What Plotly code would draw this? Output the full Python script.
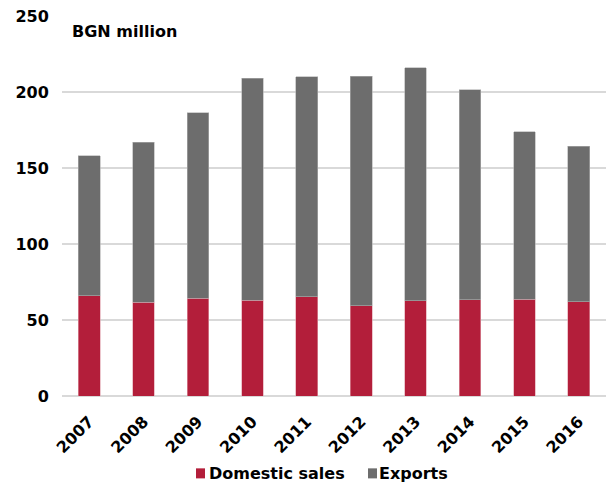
import plotly.graph_objects as go

years = ["2007", "2008", "2009", "2010", "2011", "2012", "2013", "2014", "2015", "2016"]
domestic = [66.0, 61.6, 64.3, 63.0, 65.3, 59.4, 62.7, 63.4, 63.6, 62.0]
exports = [92.2, 105.2, 122.1, 146.0, 144.6, 151.0, 153.4, 138.2, 110.3, 102.2]
y_ticks = [0, 50, 100, 150, 200, 250]
series_names = ["Domestic sales", "Exports"]
series_colors = ["#B31E3A", "#6D6D6D"]

FONT = "DejaVu Sans"

fig = go.Figure()
fig.add_trace(go.Bar(x=years, y=domestic, name=series_names[0],
                     marker=dict(color=series_colors[0], line=dict(width=0.6, color="#E0A0AC"))))
fig.add_trace(go.Bar(x=years, y=exports, name=series_names[1],
                     marker=dict(color=series_colors[1], line=dict(width=0.6, color="#B0B0B0"))))

# custom legend (squares + labels) under the chart
legend_sq = [(0.2463, 0.2629), (0.5625, 0.5790)]
legend_tx = [0.2702, 0.5827]
shapes = []
annotations = [dict(text="<b>BGN million</b>", xref="paper", yref="paper",
                    x=0.015, y=0.958, xanchor="left", yanchor="middle", showarrow=False,
                    font=dict(family=FONT, size=16, color="black"))]
for (x0, x1), tx, name, col in zip(legend_sq, legend_tx, series_names, series_colors):
    shapes.append(dict(type="rect", xref="paper", yref="paper", x0=x0, x1=x1,
                       y0=-0.2168, y1=-0.1904, fillcolor=col, line=dict(width=0)))
    annotations.append(dict(text="<b>%s</b>" % name, xref="paper", yref="paper",
                            x=tx, y=-0.2036, xanchor="left", yanchor="middle",
                            showarrow=False, xshift=-2,
                            font=dict(family=FONT, size=16, color="black")))

fig.update_layout(
    barmode="stack",
    bargap=0.6,
    width=608, height=483,
    margin=dict(l=62, r=2, t=16, b=87),
    paper_bgcolor="white", plot_bgcolor="white",
    font=dict(family=FONT, size=16, color="black"),
    showlegend=False,
    shapes=shapes,
    annotations=annotations,
)
fig.update_xaxes(tickangle=-45, tickfont=dict(family=FONT, size=16, weight="bold"),
                 showgrid=False, showline=False, automargin=False,
                 ticks="outside", ticklen=9, tickcolor="rgba(0,0,0,0)")
fig.update_yaxes(range=[0, 250], tickvals=y_ticks, automargin=False,
                 tickfont=dict(family=FONT, size=16, weight="bold"),
                 showgrid=True, gridcolor="#D9D9D9", gridwidth=2,
                 zeroline=True, zerolinecolor="#D9D9D9", zerolinewidth=2,
                 ticks="outside", ticklen=9, tickcolor="rgba(0,0,0,0)")

fig.write_html("out.html")
